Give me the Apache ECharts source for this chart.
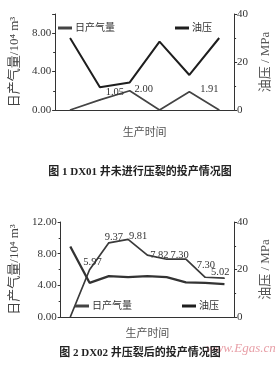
<!DOCTYPE html>
<html>
<head>
<meta charset="utf-8">
<script src="https://cdn.jsdelivr.net/npm/echarts@6/dist/echarts.min.js"></script>
<style>
  html, body { margin: 0; padding: 0; background: #fff; }
  #main { width: 280px; height: 380px; }
</style>
</head>
<body>
<div id="main"></div>
<script>
// 图1 DX01 井（未压裂）
var days1 = ['1', '2', '3', '4', '5', '6'];
var gas1 = [0, 1.05, 2.00, 0, 1.91, 0];
var press1 = [30, 9.5, 11.5, 28.5, 14.6, 30];

// 图2 DX02 井（压裂后）
var days2 = ['1', '2', '3', '4', '5', '6', '7', '8', '9'];
var gas2 = [0, 5.97, 9.37, 9.81, 7.82, 7.30, 7.30, 5.02, 4.9];
var press2 = [29.7, 14.4, 17.2, 16.8, 17.2, 16.8, 14.6, 14.4, 13.8];

// 数值标注的偏移（样式）
var labelShift1 = [null, [15, 1], [14, 7], null, [20, 6], null];
var labelShift2 = [null, [3, 1], [5, 3], [10, 6], [12, 9], [13, 5], [20, 15], [15, 4], null];

var serif = 'Liberation Serif, Noto Sans CJK SC';
var ink = '#333';

var chart = echarts.init(document.getElementById('main'));

function leftAxis(grid, max) {
  return {
    type: 'value', gridIndex: grid, min: 0, max: max, interval: 4,
    name: '日产气量/10⁴ m³', nameLocation: 'middle', nameRotate: 90, nameGap: 27,
    nameTextStyle: { fontFamily: serif, fontSize: 13, color: '#444' },
    axisLine: { show: true, lineStyle: { color: ink, width: 1 } },
    axisTick: { show: true, length: 3, lineStyle: { color: ink } },
    minorTick: { show: true, splitNumber: 2, length: 2, lineStyle: { color: ink } },
    axisLabel: { fontFamily: serif, fontSize: 11, color: ink, margin: 4, showMaxLabel: max % 4 === 0,
      formatter: function (v) { return v.toFixed(2); } },
    splitLine: { show: false }
  };
}
function rightAxis(grid) {
  return {
    type: 'value', gridIndex: grid, position: 'right', min: 0, max: 40, interval: 20,
    name: '油压 / MPa', nameLocation: 'middle', nameRotate: 90, nameGap: 17,
    nameTextStyle: { fontFamily: serif, fontSize: 13, color: '#555' },
    axisLine: { show: true, lineStyle: { color: ink, width: 1 } },
    axisTick: { show: true, length: 3, lineStyle: { color: ink } },
    minorTick: { show: true, splitNumber: 2, length: 2, lineStyle: { color: ink } },
    axisLabel: { fontFamily: serif, fontSize: 11, color: ink, margin: 3 },
    splitLine: { show: false }
  };
}
function xAxis(grid, data, gap) {
  return {
    type: 'category', gridIndex: grid, data: data, boundaryGap: true,
    name: '生产时间', nameLocation: 'middle', nameGap: gap,
    nameTextStyle: { fontFamily: serif, fontSize: 11, color: '#555' },
    axisLine: { show: true, lineStyle: { color: ink, width: 1 } },
    axisTick: { show: false }, axisLabel: { show: false }
  };
}
function labeled(values, shifts) {
  return values.map(function (v, i) {
    if (!shifts[i]) return { value: v, label: { show: false } };
    return { value: v, label: { show: true, offset: shifts[i] } };
  });
}
var gasLabel = {
  show: true, position: 'top', distance: 3,
  fontFamily: serif, fontSize: 10.5, color: ink,
  formatter: function (p) { return p.value.toFixed(2); }
};
function legendItem(name, left, top) {
  return {
    data: [name], left: left, top: top, icon: 'rect', itemWidth: 14, itemHeight: 3,
    itemGap: 0, selectedMode: false,
    textStyle: { fontFamily: serif, fontSize: 10, color: ink, padding: [0, 0, 0, -2] }
  };
}

chart.setOption({
  animation: false,
  title: [
    { text: '图 1 DX01 井未进行压裂的投产情况图', left: 'center', top: 162,
      textStyle: { fontFamily: serif, fontSize: 11, fontWeight: 'bold', color: '#222' } },
    { text: '图 2 DX02 井压裂后的投产情况图', left: 'center', top: 343,
      textStyle: { fontFamily: serif, fontSize: 11, fontWeight: 'bold', color: '#222' } }
  ],
  legend: [
    legendItem('日产气量', 53, 18),
    legendItem('油压', 170, 18),
    legendItem('日产气量', 70, 296),
    legendItem('油压', 177, 296)
  ],
  grid: [
    { left: 41, right: 30, top: 14, height: 96 },
    { left: 41, right: 30, top: 222, height: 95 }
  ],
  xAxis: [xAxis(0, days1, 18), xAxis(1, days2, 12)],
  yAxis: [leftAxis(0, 10), rightAxis(0), leftAxis(1, 12), rightAxis(1)],
  series: [
    { name: '日产气量', type: 'line', xAxisIndex: 0, yAxisIndex: 0, data: labeled(gas1, labelShift1),
      symbol: 'circle', symbolSize: 1, lineStyle: { color: '#444', width: 1.7 }, itemStyle: { color: '#444' },
      label: gasLabel },
    { name: '油压', type: 'line', xAxisIndex: 0, yAxisIndex: 1, data: press1,
      symbol: 'none', lineStyle: { color: '#1e1e1e', width: 2 }, itemStyle: { color: '#1e1e1e' } },
    { name: '日产气量', type: 'line', xAxisIndex: 1, yAxisIndex: 2, data: labeled(gas2, labelShift2),
      symbol: 'circle', symbolSize: 1, lineStyle: { color: '#3a3a3a', width: 1.7 }, itemStyle: { color: '#3a3a3a' },
      label: gasLabel },
    { name: '油压', type: 'line', xAxisIndex: 1, yAxisIndex: 3, data: press2,
      symbol: 'none', lineStyle: { color: '#333', width: 2.3 }, itemStyle: { color: '#333' } }
  ],
  graphic: [
    { type: 'text', left: 206, top: 342,
      style: { text: 'www.Egas.cn', fontFamily: serif, fontStyle: 'italic', fontSize: 13, fill: '#e8a0a8' } }
  ]
});
</script>
</body>
</html>
